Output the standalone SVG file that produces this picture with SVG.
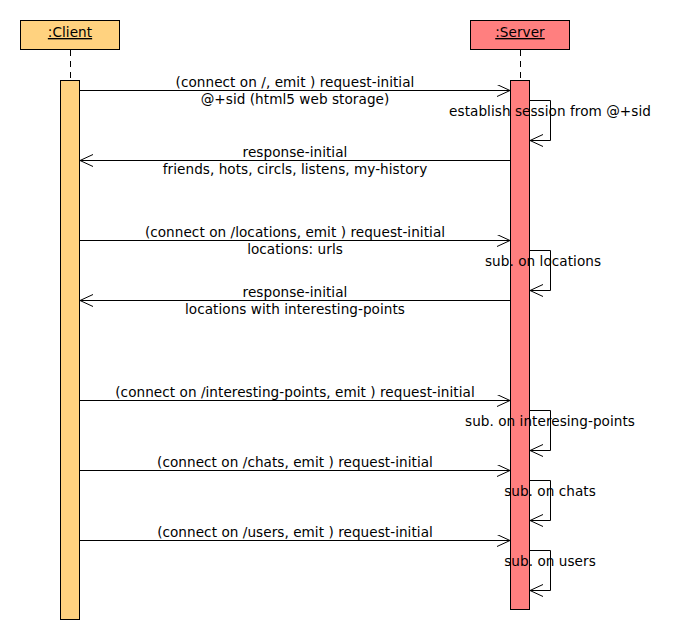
<svg xmlns="http://www.w3.org/2000/svg" width="698" height="640" viewBox="0 0 698 640">
<style>
text{font-family:"DejaVu Sans",sans-serif;font-size:13.6px;letter-spacing:0.05px;fill:#000;text-anchor:middle}
.ln{stroke:#000;stroke-width:1;fill:none}
.life{stroke:#000;stroke-width:1;stroke-dasharray:6,5}
.client{fill:#FFD27F;stroke:#000;stroke-width:1}
.server{fill:#FF7F7F;stroke:#000;stroke-width:1}
.title{text-decoration:underline}
</style>
<defs>
<marker id="open" markerWidth="14" markerHeight="14" refX="13" refY="6" orient="auto" markerUnits="userSpaceOnUse">
<path d="M0,0 L13,6 L0,12" fill="none" stroke="#000" stroke-width="1"/>
</marker>
</defs>
<rect width="698" height="640" fill="#fff"/>
<g id="client">
<rect class="client" x="20.5" y="20.5" width="99" height="29"/>
<text class="title" x="70" y="37">:Client</text>
<line class="life" x1="70.5" y1="50" x2="70.5" y2="80"/>
<rect class="client" x="60.5" y="80.5" width="19" height="539"/>
</g>
<g id="server">
<rect class="server" x="470.5" y="20.5" width="99" height="29"/>
<text class="title" x="520" y="37">:Server</text>
<line class="life" x1="520.5" y1="50" x2="520.5" y2="80"/>
<rect class="server" x="510.5" y="80.5" width="19" height="529"/>
</g>
<g id="connectors">
<line class="ln" x1="80" y1="90.5" x2="510" y2="90.5" marker-end="url(#open)"/>
<path class="ln" d="M530,100.5 H550.5 V140.5 H530" marker-end="url(#open)"/>
<line class="ln" x1="510" y1="160.5" x2="80" y2="160.5" marker-end="url(#open)"/>
<line class="ln" x1="80" y1="240.5" x2="510" y2="240.5" marker-end="url(#open)"/>
<path class="ln" d="M530,250.5 H550.5 V290.5 H530" marker-end="url(#open)"/>
<line class="ln" x1="510" y1="300.5" x2="80" y2="300.5" marker-end="url(#open)"/>
<line class="ln" x1="80" y1="400.5" x2="510" y2="400.5" marker-end="url(#open)"/>
<path class="ln" d="M530,410.5 H550.5 V450.5 H530" marker-end="url(#open)"/>
<line class="ln" x1="80" y1="470.5" x2="510" y2="470.5" marker-end="url(#open)"/>
<path class="ln" d="M530,480.5 H550.5 V520.5 H530" marker-end="url(#open)"/>
<line class="ln" x1="80" y1="540.5" x2="510" y2="540.5" marker-end="url(#open)"/>
<path class="ln" d="M530,550.5 H550.5 V590.5 H530" marker-end="url(#open)"/>
</g>
<g id="labels">
<text x="295" y="87">(connect on /, emit ) request-initial</text>
<text x="295" y="104">@+sid (html5 web storage)</text>
<text x="550" y="116">establish session from @+sid</text>
<text x="295" y="157">response-initial</text>
<text x="295" y="174">friends, hots, circls, listens, my-history</text>
<text x="295" y="237">(connect on /locations, emit ) request-initial</text>
<text x="295" y="254">locations: urls</text>
<text x="543" y="266">sub. on locations</text>
<text x="295" y="297">response-initial</text>
<text x="295" y="314">locations with interesting-points</text>
<text x="295" y="397">(connect on /interesting-points, emit ) request-initial</text>
<text x="550" y="426">sub. on interesing-points</text>
<text x="295" y="467">(connect on /chats, emit ) request-initial</text>
<text x="550" y="496">sub. on chats</text>
<text x="295" y="537">(connect on /users, emit ) request-initial</text>
<text x="550" y="566">sub. on users</text>
</g>
</svg>
